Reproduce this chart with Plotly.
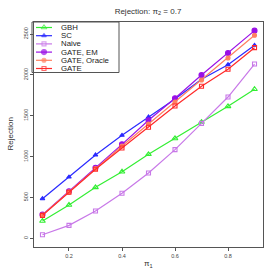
import plotly.graph_objects as go

pi1 = [0.1, 0.2, 0.3, 0.4, 0.5, 0.6, 0.7, 0.8, 0.9]

series_names = ["GBH", "SC", "Naive", "GATE, EM", "GATE, Oracle", "GATE"]
gbh = [212, 408, 624, 815, 1028, 1222, 1423, 1615, 1824]
sc = [485, 750, 1020, 1261, 1485, 1705, 1946, 2125, 2362]
naive = [44, 159, 334, 551, 799, 1085, 1407, 1729, 2133]
gate_em = [290, 575, 864, 1150, 1444, 1714, 1999, 2268, 2541]
gate_oracle = [285, 568, 855, 1130, 1399, 1668, 1938, 2206, 2484]
gate = [281, 563, 845, 1105, 1359, 1619, 1860, 2069, 2333]

y_ticks = [0, 500, 1000, 1500, 2000, 2500]
x_ticks = [0.2, 0.4, 0.6, 0.8]

values = [gbh, sc, naive, gate_em, gate_oracle, gate]
colors = ["#33ee33", "#2a2aff", "#c878e8", "#9a10e6", "#ff8060", "#ff2a2a"]
symbols = ["triangle-up-open", "triangle-up", "square-open", "circle", "circle", "square-open"]
sizes = [5, 4, 4, 5, 4, 4]

fig = go.Figure()

for name, vals, c, s, sz in zip(series_names, values, colors, symbols, sizes):
    fig.add_trace(go.Scatter(
        x=pi1, y=vals, name=name, mode="lines+markers",
        line=dict(color=c, width=1.2),
        marker=dict(color=c, symbol=s, size=sz, line=dict(color=c, width=1.1)),
        showlegend=False,
    ))

# manual legend (pixel-based positions converted to paper coords)
L, R, T, B = 34, 263, 22, 247
W, H = R - L, B - T
def px(x):
    return (x - L) / W
def py(y):
    return (B - y) / H

fig.add_shape(type="rect", xref="paper", yref="paper",
              x0=px(32), x1=px(119), y0=py(72.5), y1=py(22),
              line=dict(color="#555555", width=1), fillcolor="white", layer="below")

annotations = []
for i, (name, c, s, sz) in enumerate(zip(series_names, colors, symbols, sizes)):
    yy = py(27.5 + i * 8.2)
    fig.add_trace(go.Scatter(
        x=[px(36), px(44), px(52)], y=[yy, yy, yy], mode="lines+markers",
        xaxis="x2", yaxis="y2",
        line=dict(color=c, width=1.2),
        marker=dict(color=c, symbol=s, size=[0, sz, 0], line=dict(color=c, width=1.1)),
        showlegend=False, hoverinfo="skip", cliponaxis=False,
    ))
    annotations.append(dict(
        x=px(58.5), y=yy, xref="paper", yref="paper", text=name, showarrow=False,
        xanchor="left", yanchor="middle", font=dict(size=7.8, color="#222222")))

annotations.append(dict(x=px(148), y=py(264), xref="paper", yref="paper",
                        text="π<sub>1</sub>", showarrow=False, xanchor="center",
                        yanchor="middle", font=dict(size=8, color="#333333")))
annotations.append(dict(x=px(10), y=0.5, xref="paper", yref="paper",
                        text="Rejection", showarrow=False, textangle=-90,
                        xanchor="center", yanchor="middle",
                        font=dict(size=8, color="#333333")))

fig.update_layout(
    width=273, height=273,
    margin=dict(l=L, r=273 - R, t=T, b=273 - B, autoexpand=False),
    paper_bgcolor="white", plot_bgcolor="white",
    font=dict(family="Liberation Sans, Arial, sans-serif", color="#333333"),
    title=dict(text="Rejection: π<sub>2</sub> = 0.7", x=148 / 273,
               xanchor="center", y=1 - 11 / 273, yanchor="middle", yref="container",
               font=dict(size=8, color="#333333")),
    xaxis=dict(range=[0.068, 0.932], tickvals=x_ticks, ticktext=[str(v) for v in x_ticks],
               showgrid=False, zeroline=False, showline=True, mirror=True,
               linecolor="#555555", linewidth=1, ticks="outside", ticklen=3,
               tickcolor="#555555", tickfont=dict(size=5.5, color="#444444")),
    yaxis=dict(range=[-106, 2647], tickvals=y_ticks, ticktext=[str(v) for v in y_ticks],
               showgrid=False, zeroline=False, showline=True, mirror=True,
               linecolor="#555555", linewidth=1, ticks="outside", ticklen=3,
               tickcolor="#555555", tickangle=-90, tickfont=dict(size=5.5, color="#444444")),
    xaxis2=dict(overlaying="x", range=[0, 1], visible=False),
    yaxis2=dict(overlaying="y", range=[0, 1], visible=False),
    annotations=annotations,
)

fig.write_html("out.html", config={"displayModeBar": False},
               post_script="document.body.style.margin='0';")
